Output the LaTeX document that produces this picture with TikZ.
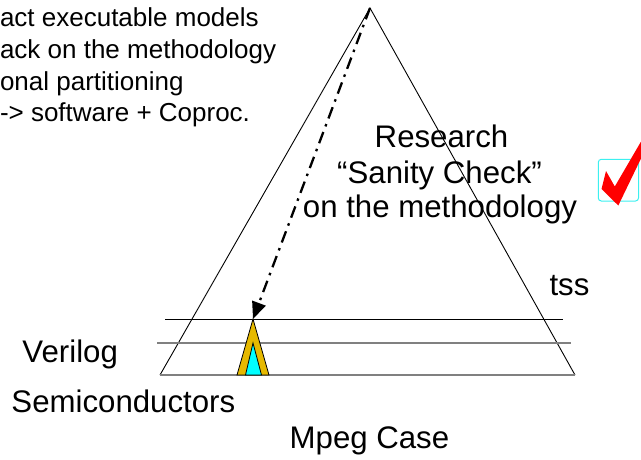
\documentclass[tikz,border=0pt]{standalone}
\usepackage{fontspec}
\setmainfont{Liberation Sans}
\usetikzlibrary{arrows.meta}
\definecolor{gold}{RGB}{230,185,0}
\definecolor{brightcyan}{RGB}{0,255,255}
\definecolor{tickred}{RGB}{255,0,0}
\definecolor{levelgray}{RGB}{128,128,128}
\definecolor{boxcyan}{RGB}{60,240,240}
\begin{document}
\begin{tikzpicture}[x=1pt,y=-1pt,
  every node/.style={inner sep=0pt, outer sep=0pt},
  note/.style={font=\fontsize{26}{31}\selectfont, anchor=base west},
  label/.style={font=\fontsize{31.2}{36}\selectfont},
  side/.style={line width=0.9pt, black},
  level/.style={line width=1.6pt, levelgray},
  flow/.style={line width=2.3pt, dash pattern=on 12pt off 6pt on 2.5pt off 6pt,
               -{Triangle[length=17pt,width=14pt]}}]
\useasboundingbox (0,0) rectangle (641,459);
\clip (0,0) rectangle (641,459);

% notes in the upper left corner
\node[note] (n1) at (0,26.7)  {act executable models};
\node[note] (n2) at (0,58.3)  {ack on the methodology};
\node[note] (n3) at (0,90)    {onal partitioning};
\node[note] (n4) at (0,121.7) {-> software + Coproc.};

% the big pyramid
\coordinate (apex) at (370,8);
\coordinate (bl) at (160,375);
\coordinate (br) at (575,375);
\draw[side] (bl) -- (apex) -- (br);

% horizontal levels near the base
\draw[line width=1pt] (165,319) -- (563,319);
\draw[level] (157,343) -- (571,343);
\draw[level] (bl) -- (br);

% small pyramid at the bottom
\coordinate (tip) at (253,319);
\filldraw[fill=gold, draw=black, line width=0.8pt] (tip) -- (269,375) -- (237,375) -- cycle;
\filldraw[fill=brightcyan, draw=black, line width=0.8pt] (253,343) -- (261.5,375) -- (245.5,375) -- cycle;

% dash-dotted descent from the top to the small pyramid
\draw[flow] (apex) -- (tip);

% labels
\node[label, anchor=base] (r1) at (441.5,147) {Research};
\node[label, anchor=base] (r2) at (439.5,183) {“Sanity Check”};
\node[label, anchor=base] (r3) at (440,217) {on the methodology};
\node[label, anchor=base west] (tss) at (549.5,295) {tss};
\node[label, anchor=base west] (ver) at (22.5,362) {Verilog};
\node[label, anchor=base west] (semi) at (11.5,412) {Semiconductors};
\node[label, anchor=base west] (mpeg) at (289.7,448) {Mpeg Case};

% tick box
\draw[boxcyan, line width=1pt, rounded corners=3pt] (598.3,159.3) rectangle (638.5,201);
\fill[tickred] (601.5,189) -- (606,171) -- (614.8,186.5) -- (646,133) -- (653.3,133) -- (618.3,205.5) -- cycle;
\end{tikzpicture}
\end{document}
